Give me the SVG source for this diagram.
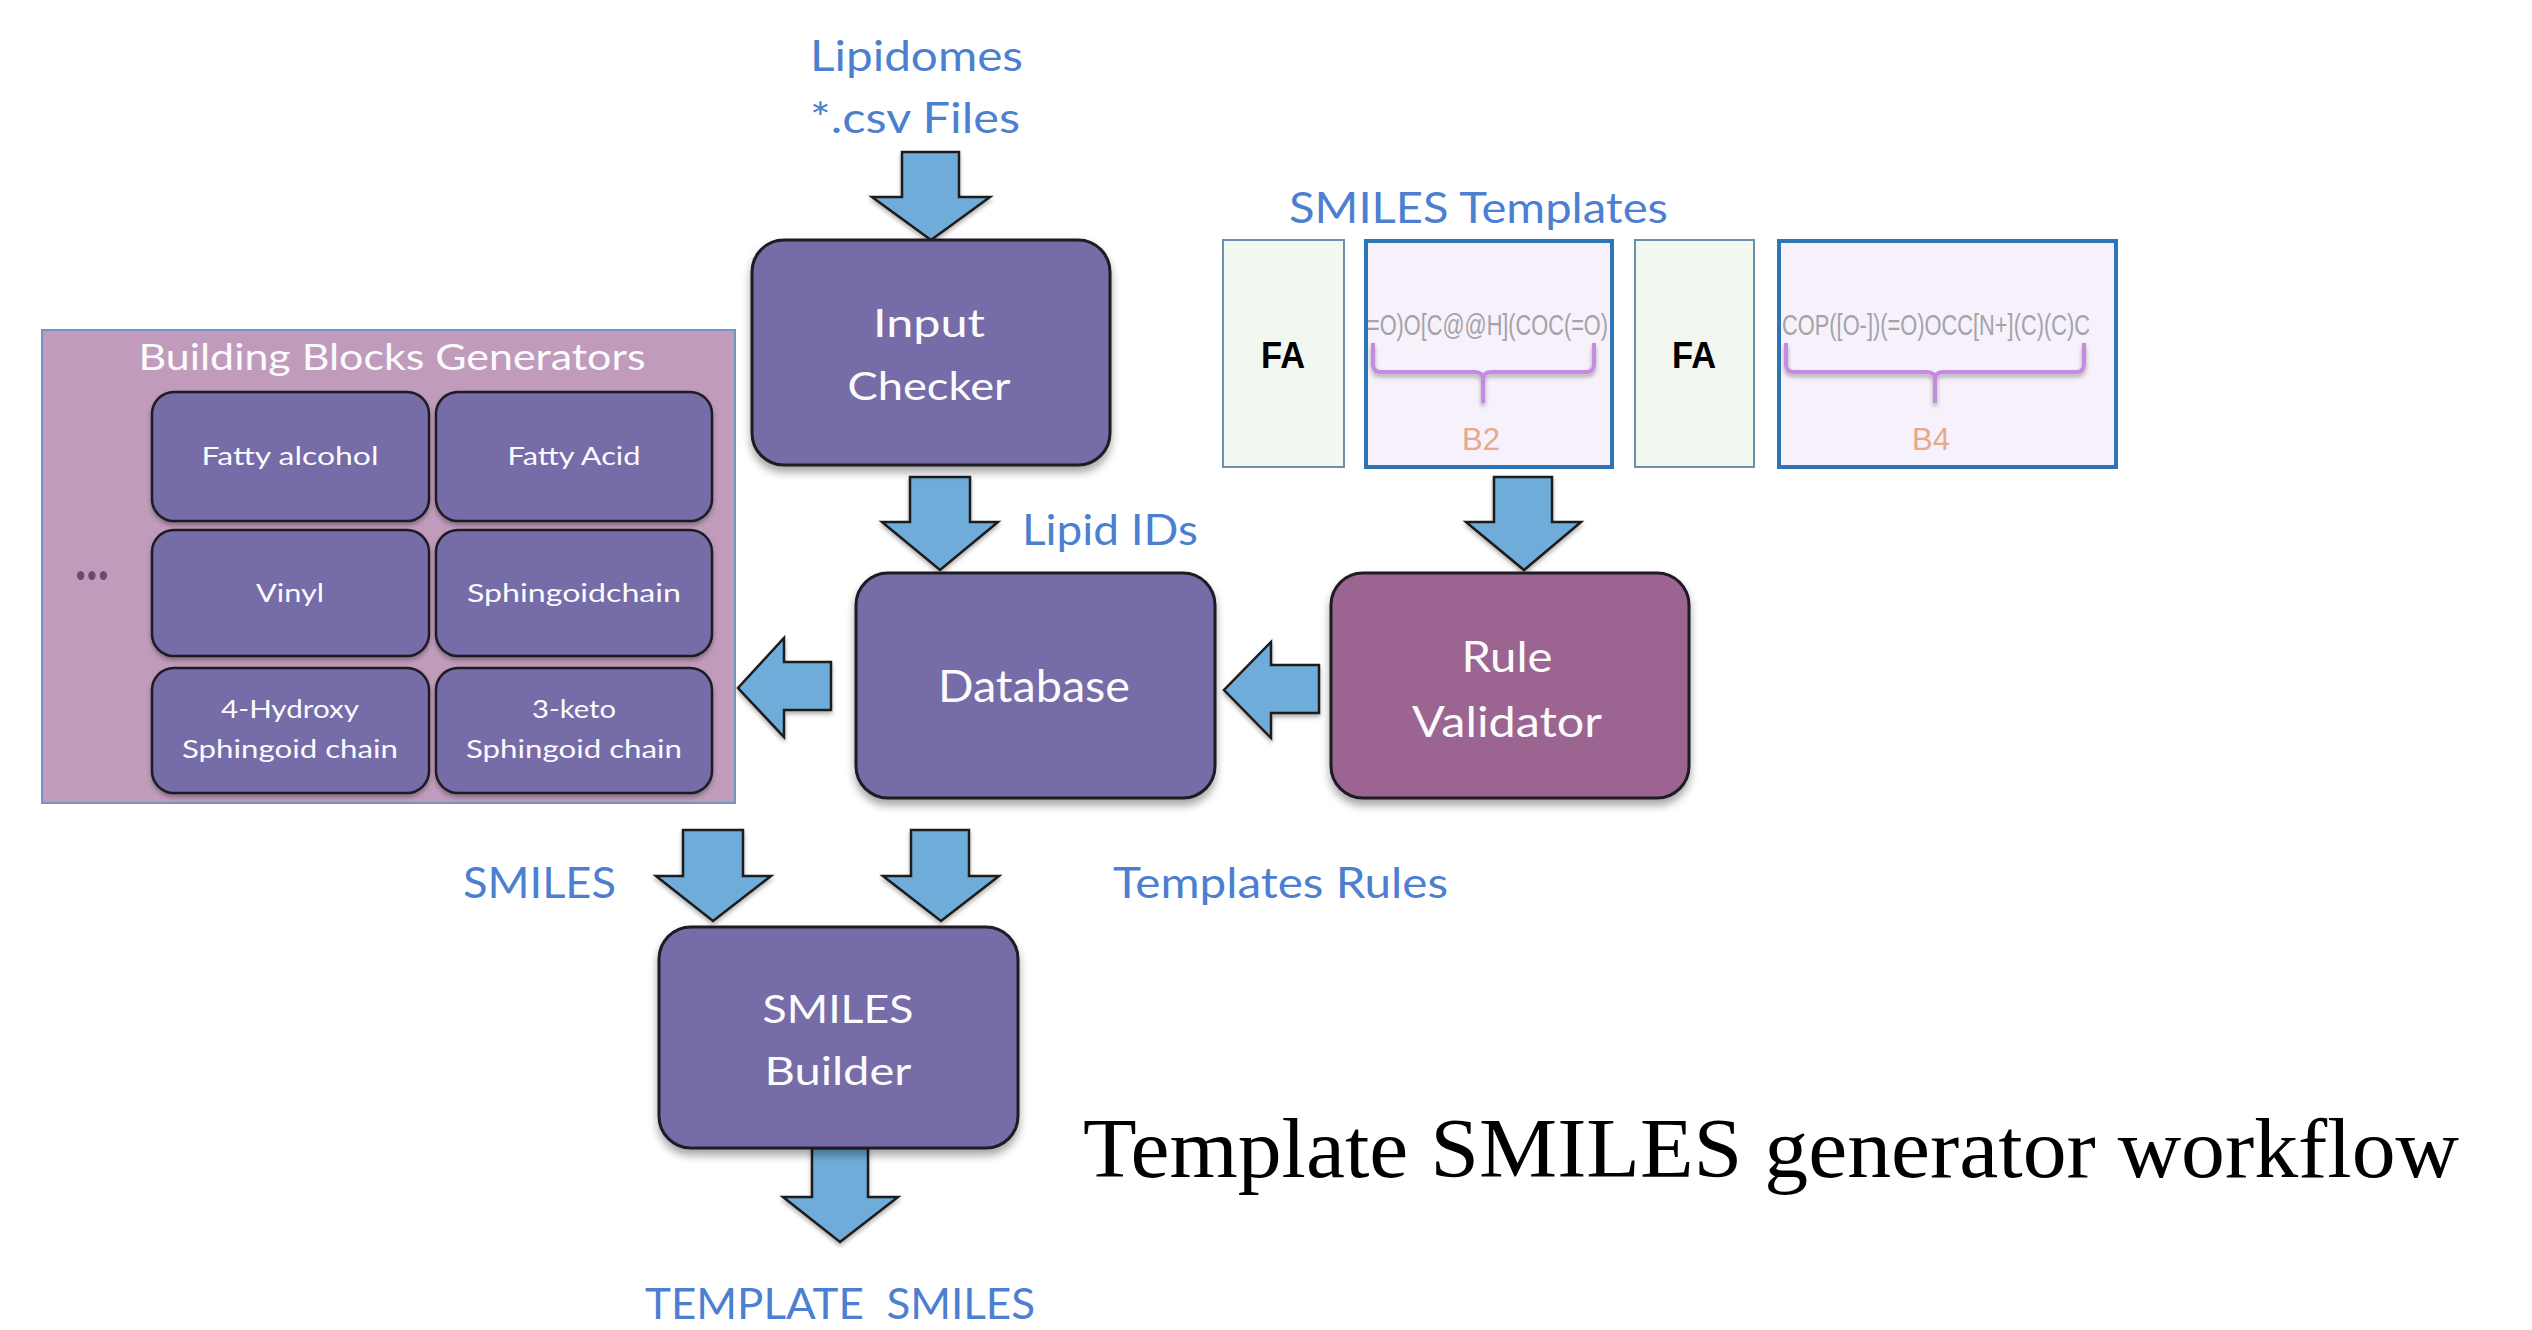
<svg xmlns="http://www.w3.org/2000/svg" width="2532" height="1330" viewBox="0 0 2532 1330">
  <defs>
    <filter id="shadow" x="-10%" y="-10%" width="125%" height="130%">
      <feDropShadow dx="0" dy="6" stdDeviation="4" flood-color="#000" flood-opacity="0.35"/>
    </filter>
    <filter id="soft" x="-10%" y="-10%" width="125%" height="130%">
      <feDropShadow dx="0" dy="3" stdDeviation="2" flood-color="#000" flood-opacity="0.3"/>
    </filter>
  </defs>
  <style>
    .proc { fill: #766ca8; stroke: #1c1c24; stroke-width: 3; filter: url(#shadow); }
    .rule { fill: #9c6591; stroke: #1c1c24; stroke-width: 3; filter: url(#shadow); }
    .block { fill: #766ca8; stroke: #1c1c24; stroke-width: 2.5; filter: url(#soft); }
    .group { fill: #c09bbb; stroke: #6f95c0; stroke-width: 2; }
    .arrow { fill: #70acd9; stroke: #1a1a1a; stroke-width: 2.5; stroke-linejoin: miter; filter: url(#soft); }
    .lbl { font-family: Lato, "Open Sans", sans-serif; fill: #4d7fd0; font-size: 42px; }
    .wt { font-family: Lato, "Open Sans", sans-serif; fill: #fbfbfd; text-anchor: middle; }
    .big { font-size: 39px; }
    .sm { font-size: 25px; }
    .fa-box { fill: #f2f7f0; stroke: #6d8fae; stroke-width: 2; }
    .b-box { fill: #f6f1fa; stroke: #2e75b6; stroke-width: 4; }
    .fa { font-family: "Liberation Sans", Arial, sans-serif; font-weight: bold; font-size: 37px; fill: #000; text-anchor: middle; }
    .smi { font-family: "Liberation Sans", Arial, sans-serif; font-size: 30px; fill: #a3a3a8; }
    .brace { fill: none; stroke: #c58be0; stroke-width: 4; stroke-linejoin: round; filter: url(#soft); }
    .bl { font-family: "Liberation Sans", Arial, sans-serif; font-size: 31px; fill: #e8a98a; text-anchor: middle; }
  </style>

  <rect width="2532" height="1330" fill="#ffffff"/>

  <!-- free-standing labels -->
  <g id="labels">
    <text class="lbl" x="810" y="71" textLength="213" lengthAdjust="spacingAndGlyphs">Lipidomes</text>
    <text class="lbl" x="810" y="133" textLength="210" lengthAdjust="spacingAndGlyphs">*.csv Files</text>
    <text class="lbl" x="1022" y="545" textLength="176" lengthAdjust="spacingAndGlyphs">Lipid IDs</text>
    <text class="lbl" x="1289" y="223" textLength="379" lengthAdjust="spacingAndGlyphs">SMILES Templates</text>
    <text class="lbl" x="463" y="898" textLength="153" lengthAdjust="spacingAndGlyphs">SMILES</text>
    <text class="lbl" x="1113" y="898" textLength="335" lengthAdjust="spacingAndGlyphs">Templates Rules</text>
    <text class="lbl" x="645" y="1319" textLength="390" lengthAdjust="spacingAndGlyphs" xml:space="preserve">TEMPLATE  SMILES</text>
    <text x="1083" y="1177" font-family="'Liberation Serif', 'Times New Roman', serif" font-size="84" fill="#000" textLength="1376" lengthAdjust="spacingAndGlyphs">Template SMILES generator workflow</text>
  </g>

  <!-- block arrows -->
  <g id="connectors">
    <polygon class="arrow" points="902,152 959,152 959,197 990,197 931,240 872,197 902,197"/>
    <polygon class="arrow" points="910,477 970,477 970,522 998,522 940,570 882,522 910,522"/>
    <polygon class="arrow" points="1494,477 1552,477 1552,522 1581,522 1524,570 1466,522 1494,522"/>
    <polygon class="arrow" points="1319,665 1319,713 1271,713 1271,738 1224,690 1271,642 1271,665"/>
    <polygon class="arrow" points="831,662 831,710 784,710 784,737 738,688 784,638 784,662"/>
    <polygon class="arrow" points="683,830 743,830 743,876 771,876 713,921 656,876 683,876"/>
    <polygon class="arrow" points="911,830 969,830 969,876 999,876 941,921 883,876 911,876"/>
    <polygon class="arrow" points="812,1148 868,1148 868,1197 898,1197 840,1242 783,1197 812,1197"/>
  </g>

  <!-- building block generators -->
  <g id="building-blocks">
    <rect class="group" x="42" y="330" width="693" height="473"/>
    <text class="wt" x="392" y="370" font-size="36" textLength="507" lengthAdjust="spacingAndGlyphs">Building Blocks Generators</text>
    <text x="75" y="580" font-family="Lato, sans-serif" font-size="60" font-weight="bold" fill="#74466e" textLength="34" lengthAdjust="spacingAndGlyphs">...</text>
  </g>
  <g id="fatty-alcohol">
    <rect class="block" x="152" y="392" width="277" height="129" rx="22"/>
    <text class="wt sm" x="290" y="465" textLength="177" lengthAdjust="spacingAndGlyphs">Fatty alcohol</text>
  </g>
  <g id="fatty-acid">
    <rect class="block" x="436" y="392" width="276" height="129" rx="22"/>
    <text class="wt sm" x="574" y="465" textLength="133" lengthAdjust="spacingAndGlyphs">Fatty Acid</text>
  </g>
  <g id="vinyl">
    <rect class="block" x="152" y="530" width="277" height="126" rx="22"/>
    <text class="wt sm" x="290" y="602" textLength="68" lengthAdjust="spacingAndGlyphs">Vinyl</text>
  </g>
  <g id="sphingoid-chain">
    <rect class="block" x="436" y="530" width="276" height="126" rx="22"/>
    <text class="wt sm" x="574" y="602" textLength="214" lengthAdjust="spacingAndGlyphs">Sphingoidchain</text>
  </g>
  <g id="hydroxy-sphingoid">
    <rect class="block" x="152" y="668" width="277" height="125" rx="22"/>
    <text class="wt sm" x="290" y="718" textLength="138" lengthAdjust="spacingAndGlyphs">4-Hydroxy</text>
    <text class="wt sm" x="290" y="758" textLength="216" lengthAdjust="spacingAndGlyphs">Sphingoid chain</text>
  </g>
  <g id="keto-sphingoid">
    <rect class="block" x="436" y="668" width="276" height="125" rx="22"/>
    <text class="wt sm" x="574" y="718" textLength="84" lengthAdjust="spacingAndGlyphs">3-keto</text>
    <text class="wt sm" x="574" y="758" textLength="216" lengthAdjust="spacingAndGlyphs">Sphingoid chain</text>
  </g>

  <!-- main process nodes -->
  <g id="input-checker">
    <rect class="proc" x="752" y="240" width="358" height="225" rx="32"/>
    <text class="wt big" x="929" y="337" textLength="112" lengthAdjust="spacingAndGlyphs">Input</text>
    <text class="wt big" x="929" y="400" textLength="163" lengthAdjust="spacingAndGlyphs">Checker</text>
  </g>
  <g id="database">
    <rect class="proc" x="856" y="573" width="359" height="225" rx="32"/>
    <text class="wt" x="1034" y="702" font-size="44" textLength="192" lengthAdjust="spacingAndGlyphs">Database</text>
  </g>
  <g id="rule-validator">
    <rect class="rule" x="1331" y="573" width="358" height="225" rx="32"/>
    <text class="wt" x="1507" y="672" font-size="42" textLength="91" lengthAdjust="spacingAndGlyphs">Rule</text>
    <text class="wt" x="1507" y="737" font-size="42" textLength="190" lengthAdjust="spacingAndGlyphs">Validator</text>
  </g>
  <g id="smiles-builder">
    <rect class="proc" x="659" y="927" width="359" height="221" rx="32"/>
    <text class="wt big" x="838" y="1023" textLength="151" lengthAdjust="spacingAndGlyphs">SMILES</text>
    <text class="wt big" x="838" y="1085" textLength="147" lengthAdjust="spacingAndGlyphs">Builder</text>
  </g>

  <!-- SMILES template strips -->
  <g id="template-fa-1">
    <rect class="fa-box" x="1223" y="240" width="121" height="227"/>
    <text class="fa" x="1283" y="368" textLength="44" lengthAdjust="spacingAndGlyphs">FA</text>
  </g>
  <g id="template-b2">
    <rect class="b-box" x="1366" y="241" width="246" height="226"/>
    <text class="smi" x="1367" y="335" textLength="241" lengthAdjust="spacingAndGlyphs">=O)O[C@@H](COC(=O)</text>
    <path class="brace" d="M1373,343 V364 Q1373,372 1381,372 H1475 Q1483,372 1483,380 V403 M1483,380 Q1483,372 1491,372 H1586 Q1594,372 1594,364 V343"/>
    <text class="bl" x="1481" y="450">B2</text>
  </g>
  <g id="template-fa-2">
    <rect class="fa-box" x="1635" y="240" width="119" height="227"/>
    <text class="fa" x="1694" y="368" textLength="44" lengthAdjust="spacingAndGlyphs">FA</text>
  </g>
  <g id="template-b4">
    <rect class="b-box" x="1779" y="241" width="337" height="226"/>
    <text class="smi" x="1782" y="335" textLength="308" lengthAdjust="spacingAndGlyphs">COP([O-])(=O)OCC[N+](C)(C)C</text>
    <path class="brace" d="M1786,343 V364 Q1786,372 1794,372 H1927 Q1935,372 1935,380 V403 M1935,380 Q1935,372 1943,372 H2076 Q2084,372 2084,364 V343"/>
    <text class="bl" x="1931" y="450">B4</text>
  </g>
</svg>
